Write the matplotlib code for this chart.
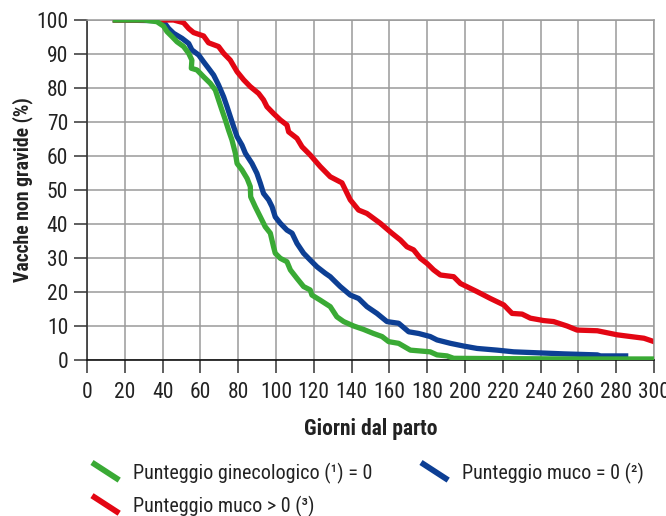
import matplotlib
matplotlib.use("Agg")
import matplotlib.pyplot as plt
from matplotlib.lines import Line2D
from matplotlib.legend_handler import HandlerBase
from matplotlib import font_manager

# Dati (giorni dal parto, % vacche non gravide)
giorni_gin = [15, 30, 37, 40.5, 42.3, 45, 47.6, 51.1, 53.8, 55.5, 55.2, 58.2, 61.7, 65.2,
              67.9, 69.6, 71.4, 73.2, 74.9, 76.7, 78.5, 79.4, 82, 84.7, 86.4, 86.6, 89,
              91.7, 94.3, 97, 98.7, 99.6, 102.3, 105.8, 107.6, 111.1, 114.6, 118.1, 119,
              123.4, 128.7, 132.2, 135.8, 141.1, 146.3, 151.6, 156.1, 159.6, 164.9, 171.1,
              181.6, 185.2, 190.5, 194, 220, 260, 300]
val_gin = [100, 100, 99.5, 98.2, 96.6, 95.1, 93.6, 92.2, 90.2, 88.2, 85.8, 85.3, 83.3, 81.4,
           79.4, 76.5, 73.5, 70.6, 67.6, 64.7, 60.8, 57.8, 55.9, 53.4, 51, 48, 45.1,
           42.1, 39.2, 37.3, 33.3, 31.4, 29.9, 28.9, 26.5, 24, 21.6, 20.6, 19.1,
           17.6, 15.7, 12.7, 11.3, 10, 9, 7.8, 6.9, 5.4, 4.9, 2.9,
           2.4, 1.5, 1.2, 0.5, 0.4, 0.3, 0.3]

giorni_muco0 = [15, 37, 40.5, 43.2, 45.8, 50.3, 53.8, 55.5, 59.1, 61.7, 64.3, 67, 69.6, 72.3,
                74.1, 75.8, 77.6, 79.4, 82, 83.8, 87.3, 89.9, 91.7, 93.4, 96.1, 97.9, 99.6,
                102.3, 105.8, 108.5, 111.1, 114.6, 118.1, 121.7, 126.1, 128.7, 130.5, 134,
                139.3, 143.7, 148.1, 153.4, 158.7, 164.9, 170.2, 175.5, 181.6, 185.2, 192.3,
                199.3, 206.4, 217, 225.8, 243.5, 252.3, 270, 271.7, 285]
val_muco0 = [100, 99.8, 99.5, 97.5, 96.1, 94.6, 93.1, 91.2, 89.7, 87.7, 85.8, 83.8, 80.9, 77.4,
             74.5, 71.6, 68.6, 65.7, 63.2, 60.8, 57.8, 54.9, 52, 49, 47.1, 45.1, 42.1,
             40.2, 38.2, 37.3, 34.3, 31.4, 29.4, 27.4, 25.5, 24.5, 23.5, 21.6,
             19.1, 18.1, 15.7, 13.7, 11.3, 10.8, 8.3, 7.8, 6.9, 5.9, 4.9,
             4.1, 3.4, 2.9, 2.4, 2.0, 1.8, 1.5, 1.2, 1.2]

giorni_muco1 = [15, 39.7, 45.8, 51.1, 53.8, 56.4, 61.7, 64.3, 69.6, 72.3, 75.8, 79.4, 82.9,
                86.4, 90.8, 93.4, 95.2, 98.7, 102.3, 105.8, 106.7, 111.1, 113.8, 118.1,
                123.4, 128.7, 134.9, 139.3, 143.7, 148.1, 155.2, 161.3, 165.8, 169.3, 172.8,
                176.4, 179.9, 183.4, 187, 194, 197.6, 206.4, 213.4, 220.5, 224.9, 230.2,
                234.6, 241.6, 246.9, 254, 259.3, 270, 275.3, 280.6, 287.6, 294.7, 300]
val_muco1 = [100, 100, 100, 99.2, 97.5, 96.3, 95.3, 93.3, 92.2, 90.2, 88.2, 84.8, 82.4,
             80.4, 78.4, 76.5, 74.5, 72.5, 70.6, 69.1, 67.1, 65.2, 62.7, 60.3,
             56.9, 53.9, 52.1, 47.1, 44.1, 43.1, 40.2, 37.3, 35.3, 33.3, 32.4,
             29.9, 28.4, 26.5, 25, 24.5, 22.5, 20.1, 18.1, 16.2, 13.7, 13.5,
             12.3, 11.6, 11.3, 10, 8.8, 8.6, 8.0, 7.4, 6.9, 6.4, 5.4]

etichette = ["Punteggio ginecologico (\u00b9) = 0",
             "Punteggio muco = 0 (\u00b2)",
             "Punteggio muco > 0 (\u00b3)"]
colori = ["#3aaa35", "#0d3f94", "#e30613"]

nomi = {f.name for f in font_manager.fontManager.ttflist}
for cand in ["Liberation Sans Narrow", "Roboto Condensed", "Open Sans Condensed", "Liberation Sans"]:
    if cand in nomi:
        font = cand
        break
plt.rcParams["font.family"] = [font, "DejaVu Sans"]


class DiagHandler(HandlerBase):
    def create_artists(self, legend, orig_handle, xdescent, ydescent, width, height, fontsize, trans):
        ln = Line2D([-xdescent, -xdescent + width], [height * 1.2, -height * 0.05],
                    color=orig_handle.get_color(), lw=4.2,
                    solid_capstyle="butt", transform=trans)
        return [ln]


fig = plt.figure(figsize=(6.66, 5.16), dpi=100)
ax = fig.add_axes([87 / 666, 1 - 360 / 516, (654 - 87) / 666, 340 / 516])

lw = 3.8
l1, = ax.plot(giorni_gin, val_gin, color=colori[0], lw=lw, label=etichette[0], zorder=3)
l2, = ax.plot(giorni_muco0, val_muco0, color=colori[1], lw=lw, label=etichette[1], zorder=2)
l3, = ax.plot(giorni_muco1, val_muco1, color=colori[2], lw=lw, label=etichette[2], zorder=2)

ax.set_xlim(0, 300)
ax.set_ylim(0, 100)
ax.set_xticks(range(0, 301, 20))
ax.set_yticks(range(0, 101, 10))
ax.grid(True, color="#9a9a9a", lw=1.1)
ax.set_axisbelow(True)
for s in ["top", "right"]:
    ax.spines[s].set_color("#9a9a9a")
    ax.spines[s].set_linewidth(1.1)
ax.spines["left"].set_color("#333333")
ax.spines["bottom"].set_color("#111111")
ax.spines["left"].set_linewidth(1.2)
ax.spines["bottom"].set_linewidth(1.2)
ax.tick_params(axis="both", length=9.5, width=1.1, color="#333333", labelsize=15.5,
               labelcolor="#222222")
ax.tick_params(axis="x", pad=6)
ax.tick_params(axis="y", pad=4)

ax.set_xlabel("Giorni dal parto", fontsize=15.5, fontweight="bold", color="#222222", labelpad=11)
ax.set_ylabel("Vacche non gravide (%)", fontsize=14.2, fontweight="bold", color="#222222", labelpad=2)

fig.legend([l1, l3, l2], [etichette[0], etichette[2], etichette[1]],
           handler_map={Line2D: DiagHandler()}, ncol=2, frameon=False,
           loc="upper left", bbox_to_anchor=(92 / 666, 1 - 463 / 516),
           fontsize=14.5, handlelength=1.35, handletextpad=0.7, columnspacing=2.4,
           labelspacing=0.6, borderaxespad=0, borderpad=0, labelcolor="#222222")

fig.savefig("out.png", dpi=100)
